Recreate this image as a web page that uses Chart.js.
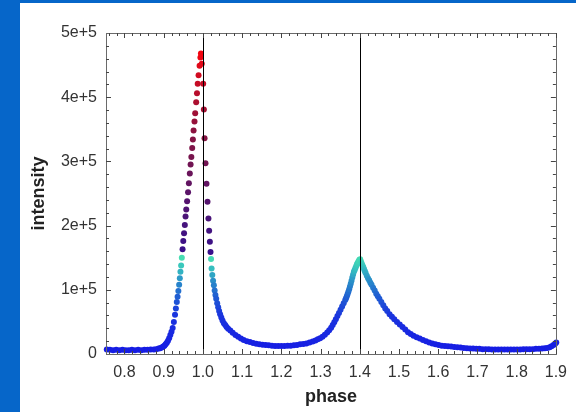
<!DOCTYPE html>
<html>
<head>
<meta charset="utf-8">
<script src="https://cdn.jsdelivr.net/npm/chart.js@4.4.0/dist/chart.umd.min.js"></script>
<style>
  html, body { margin: 0; padding: 0; background: #0666c9; }
  canvas { display: block; }
</style>
</head>
<body>
<canvas id="chart" width="576" height="412"></canvas>
<script>
// intensity values are in thousands (1e+5 = 100)
const leftBasePhase = [0.755, 0.763, 0.771, 0.779, 0.787, 0.795, 0.803, 0.811, 0.819, 0.827, 0.835, 0.843, 0.851, 0.859, 0.867, 0.875, 0.881, 0.887, 0.891, 0.895, 0.899, 0.902, 0.905, 0.908, 0.911, 0.914, 0.917, 0.920, 0.923, 0.926, 0.929];
const leftBaseK = [7, 6.5, 6, 6.5, 6, 6.5, 6, 6, 6.5, 6, 6.5, 6, 6.5, 6.5, 7, 7, 7.5, 8.5, 9, 10, 11.5, 13, 15, 17.5, 20.5, 24.5, 29.5, 34.5, 40.5, 50, 61];

const firstPeakPhase = [0.9312, 0.9335, 0.9355, 0.9375, 0.9395, 0.9412, 0.9428, 0.9445, 0.9463, 0.9482, 0.9500, 0.9520, 0.9540, 0.9558, 0.9576, 0.9598, 0.9622, 0.9643, 0.9667, 0.9687, 0.9706, 0.9728, 0.9745, 0.9763, 0.9786, 0.9804, 0.9829, 0.9850, 0.9868, 0.9890, 0.9916, 0.9937, 0.9950, 0.9972, 1.0008, 1.0025, 1.0043, 1.0067, 1.0092, 1.0118, 1.0142, 1.0160, 1.0178, 1.0195, 1.0208];
const firstPeakK = [71, 81, 89, 98, 108, 118, 128, 138, 150, 163, 176, 188, 201, 214, 225, 238, 252, 266, 281, 295, 307, 321, 334, 348, 362, 375, 392, 406, 421, 434, 449, 462, 468, 452, 421, 381, 336, 297, 265, 237, 211, 192, 175, 159, 148];

const valleyPhase = [1.0222, 1.0240, 1.0260, 1.0280, 1.0300, 1.0320, 1.0340, 1.0365, 1.0390, 1.0415, 1.0440, 1.0470, 1.0500, 1.0535, 1.0570, 1.0605, 1.0645, 1.070, 1.076, 1.083, 1.090, 1.097, 1.104, 1.112, 1.120, 1.128, 1.136, 1.144, 1.152, 1.160, 1.168, 1.176, 1.184, 1.192, 1.200, 1.208, 1.216, 1.224, 1.232, 1.240, 1.248, 1.256, 1.264, 1.272, 1.280, 1.287, 1.293, 1.299, 1.305, 1.311, 1.317, 1.322, 1.327, 1.331, 1.335, 1.339, 1.343, 1.347, 1.351, 1.355, 1.359, 1.363];
const valleyK = [133, 123, 114, 107, 99, 92, 86, 79, 73, 67, 62, 57, 52, 48, 45, 42, 39.5, 36.5, 33, 29.5, 27, 24, 22, 20, 18.5, 17, 16, 15, 14.5, 14, 13.5, 13, 12.5, 12.5, 12.5, 12.5, 13, 13, 13.5, 14, 15, 15.5, 16.5, 18, 19.5, 21, 23, 24.5, 27, 30, 33.5, 37, 41, 45, 49.5, 54, 59, 64, 69, 74, 79, 84];

const secondPeakPhase = [1.365, 1.367, 1.369, 1.371, 1.373, 1.375, 1.377, 1.379, 1.381, 1.383, 1.385, 1.387, 1.389, 1.391, 1.393, 1.395, 1.397, 1.399, 1.401, 1.403, 1.405, 1.407, 1.409, 1.411, 1.413, 1.415, 1.418, 1.421, 1.424, 1.427, 1.430, 1.434, 1.438, 1.442, 1.446, 1.450, 1.455, 1.460, 1.465, 1.470, 1.476, 1.482, 1.488, 1.495, 1.502];
const secondPeakK = [87, 90, 93.5, 97, 101, 105, 109.5, 114, 119, 124, 128, 131, 134, 137, 140, 142, 144.5, 147, 147.5, 144, 141, 138, 135, 132, 129, 126, 122, 118, 115, 111, 108, 103, 99, 94, 90, 86, 81, 76, 71, 67, 62, 58, 54, 50, 46];

const tailPhase = [1.509, 1.516, 1.523, 1.530, 1.537, 1.545, 1.553, 1.561, 1.569, 1.577, 1.585, 1.593, 1.601, 1.609, 1.617, 1.625, 1.633, 1.641, 1.649, 1.657, 1.665, 1.673, 1.681, 1.689, 1.697, 1.705, 1.713, 1.721, 1.729, 1.737, 1.745, 1.753, 1.761, 1.769, 1.777, 1.785, 1.793, 1.801, 1.809, 1.817, 1.825, 1.833, 1.841, 1.849, 1.857, 1.865, 1.872, 1.878, 1.884, 1.889, 1.894, 1.898, 1.901];
const tailK = [42, 38, 34, 31, 28.5, 26, 24, 22, 20, 18, 16.5, 15, 14, 13, 12.5, 12, 11.5, 11, 10.5, 10, 9.5, 9, 8.5, 8.5, 8, 8, 7.5, 7.5, 7.5, 7, 7, 7, 7, 7, 7, 7, 7, 7, 7, 7.5, 7.5, 7.5, 7.5, 8, 8, 8.5, 9, 9.5, 10.5, 12, 14, 16, 18];

const xTickValues = [0.8, 0.9, 1.0, 1.1, 1.2, 1.3, 1.4, 1.5, 1.6, 1.7, 1.8, 1.9];
const xTickLabels = ['0.8', '0.9', '1.0', '1.1', '1.2', '1.3', '1.4', '1.5', '1.6', '1.7', '1.8', '1.9'];
const yTickValues = [0, 100, 200, 300, 400, 500];
const yTickLabels = ['0', '1e+5', '2e+5', '3e+5', '4e+5', '5e+5'];
const markerPhases = [1.0, 1.4];

// colour scale: blue -> aquamarine below ~1.5e+5, indigo -> red above
const lowStops = [[0, [22, 26, 228]], [60, [26, 52, 222]], [90, [32, 95, 210]], [115, [42, 145, 200]], [135, [55, 195, 190]], [154, [75, 228, 175]]];
const highStops = [[155, [55, 15, 140]], [200, [70, 20, 125]], [250, [90, 20, 105]], [300, [115, 20, 80]], [350, [140, 18, 62]], [400, [178, 14, 45]], [440, [215, 10, 30]], [470, [245, 5, 15]]];

function colorFor(v) {
  const stops = v < 155 ? lowStops : highStops;
  if (v <= stops[0][0]) return 'rgb(' + stops[0][1].join(',') + ')';
  for (let i = 1; i < stops.length; i++) {
    if (v <= stops[i][0]) {
      const [v0, c0] = stops[i - 1];
      const [v1, c1] = stops[i];
      const t = (v - v0) / (v1 - v0);
      return 'rgb(' + c0.map((c, k) => Math.round(c + (c1[k] - c) * t)).join(',') + ')';
    }
  }
  return 'rgb(' + stops[stops.length - 1][1].join(',') + ')';
}

function zip(ph, vals) {
  return ph.map((p, i) => ({x: p, y: vals[i]}));
}

const points = [].concat(
  zip(leftBasePhase, leftBaseK),
  zip(firstPeakPhase, firstPeakK),
  zip(valleyPhase, valleyK),
  zip(secondPeakPhase, secondPeakK),
  zip(tailPhase, tailK)
);

const framePlugin = {
  id: 'frame',
  beforeDraw(chart) {
    const ctx = chart.ctx;
    ctx.save();
    ctx.fillStyle = '#0666c9';
    ctx.fillRect(0, 0, chart.width, chart.height);
    ctx.fillStyle = '#ffffff';
    ctx.fillRect(20, 3, chart.width - 20, chart.height - 3);
    ctx.restore();
  },
  afterDatasetsDraw(chart) {
    const {ctx, chartArea: a, scales: {x, y}} = chart;
    ctx.save();
    // reference lines
    ctx.strokeStyle = '#000';
    ctx.lineWidth = 1;
    markerPhases.forEach(p => {
      const px = Math.round(x.getPixelForValue(p)) + 0.5;
      ctx.beginPath();
      ctx.moveTo(px, a.top);
      ctx.lineTo(px, a.bottom);
      ctx.stroke();
    });
    // box
    ctx.strokeStyle = '#6a6a6a';
    ctx.strokeRect(Math.round(a.left) + 0.5, Math.round(a.top) + 0.5, Math.round(a.width), Math.round(a.height));
    // inward ticks
    ctx.strokeStyle = '#444';
    ctx.beginPath();
    for (let i = 38; i <= 95; i++) {
      const px = Math.round(x.getPixelForValue(i / 50)) + 0.5;
      const len = i % 5 === 0 ? 5 : 3;
      ctx.moveTo(px, a.bottom);
      ctx.lineTo(px, a.bottom - len);
      ctx.moveTo(px, a.top);
      ctx.lineTo(px, a.top + len);
    }
    for (let i = 1; i < 25; i++) {
      const py = Math.round(y.getPixelForValue(i * 20)) + 0.5;
      const len = i % 5 === 0 ? 5 : 3;
      ctx.moveTo(a.left, py);
      ctx.lineTo(a.left + len, py);
      ctx.moveTo(a.right, py);
      ctx.lineTo(a.right - len, py);
    }
    ctx.stroke();
    ctx.restore();
  }
};

Chart.defaults.font.family = "'Liberation Sans', Arial, sans-serif";

new Chart(document.getElementById('chart'), {
  type: 'scatter',
  data: {
    datasets: [{
      label: 'intensity',
      data: points,
      clip: false,
      pointRadius: 3,
      pointBorderWidth: 0,
      pointBackgroundColor: ctx => colorFor(ctx.raw ? ctx.raw.y : 0),
      pointBorderColor: ctx => colorFor(ctx.raw ? ctx.raw.y : 0)
    }]
  },
  options: {
    responsive: false,
    animation: false,
    devicePixelRatio: 1,
    layout: { padding: { left: 20, top: 33, right: 19, bottom: 0 } },
    plugins: {
      legend: { display: false },
      tooltip: { enabled: false }
    },
    scales: {
      x: {
        type: 'linear',
        min: 0.753,
        max: 1.9,
        grid: { display: false, drawTicks: false },
        border: { display: false },
        afterFit: s => { s.height = 58; },
        afterBuildTicks: s => { s.ticks = xTickValues.map(v => ({value: v})); },
        ticks: {
          padding: 9,
          autoSkip: false,
          maxRotation: 0,
          color: '#333',
          font: { size: 16 },
          callback: (v, i) => xTickLabels[i]
        },
        title: {
          display: true,
          text: 'phase',
          color: '#222',
          font: { size: 18, weight: 'bold' },
          padding: { top: 0, bottom: 4 }
        }
      },
      y: {
        min: 0,
        max: 500,
        grid: { display: false, drawTicks: false },
        border: { display: false },
        afterFit: s => { s.width = 86; },
        afterBuildTicks: s => { s.ticks = yTickValues.map(v => ({value: v})); },
        ticks: {
          padding: 9,
          color: '#333',
          font: { size: 16 },
          callback: (v, i) => yTickLabels[i]
        },
        title: {
          display: true,
          text: 'intensity',
          color: '#222',
          font: { size: 18, weight: 'bold' },
          padding: { top: 8, bottom: 0 }
        }
      }
    }
  },
  plugins: [framePlugin]
});
</script>
</body>
</html>
